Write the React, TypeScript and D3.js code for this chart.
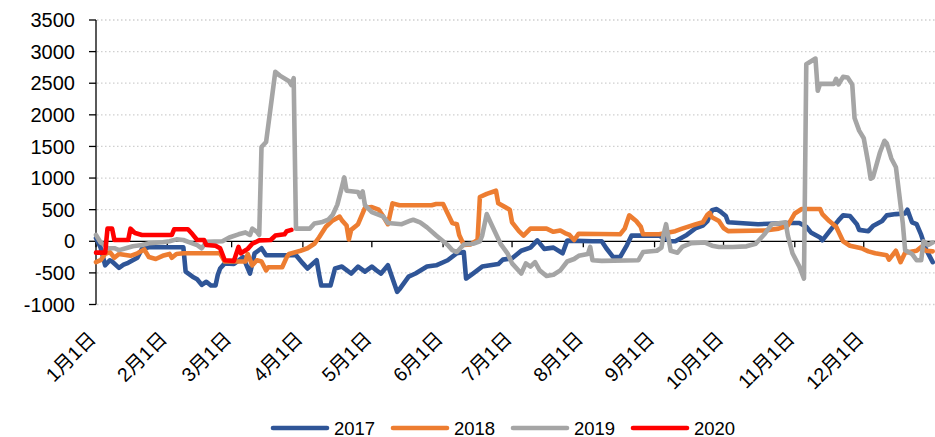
import React from "react";
import * as d3 from "d3";

type Pt = [string, number];

const seriesNames = ["2017", "2018", "2019", "2020"];
const seriesColors = ["#2F5597", "#ED7D31", "#A5A5A5", "#FF0000"];
const yTickValues = [-1000, -500, 0, 500, 1000, 1500, 2000, 2500, 3000, 3500];
const monthLabels = ["1月1日", "2月1日", "3月1日", "4月1日", "5月1日", "6月1日", "7月1日", "8月1日", "9月1日", "10月1日", "11月1日", "12月1日"];

const s2017: Pt[] = [
  ["1/1", 50], ["1/3", -100], ["1/5", -380], ["1/7", -300], ["1/8", -320], ["1/11", -420], ["1/13", -370], ["1/15", -340],
  ["1/17", -300], ["1/19", -260], ["1/21", -120], ["1/24", -95], ["2/8", -95], ["2/9", -480], ["2/12", -560], ["2/14", -600],
  ["2/16", -690], ["2/18", -640], ["2/20", -700], ["2/22", -700], ["2/23", -530], ["2/24", -430], ["2/26", -350], ["3/2", -360],
  ["3/6", -250], ["3/9", -510], ["3/11", -190], ["3/14", -110], ["3/16", -220], ["3/29", -220], ["4/1", -350], ["4/3", -430],
  ["4/7", -300], ["4/8", -510], ["4/9", -700], ["4/13", -700], ["4/15", -430], ["4/18", -400], ["4/22", -510], ["4/25", -400],
  ["4/28", -480], ["5/1", -400], ["5/3", -460], ["5/5", -510], ["5/8", -380], ["5/12", -800], ["5/13", -760], ["5/17", -560],
  ["5/20", -510], ["5/25", -400], ["5/29", -380], ["6/3", -300], ["6/7", -190], ["6/10", -170], ["6/11", -590], ["6/14", -510],
  ["6/18", -400], ["6/25", -360], ["6/27", -290], ["7/1", -270], ["7/5", -150], ["7/9", -100], ["7/12", 15], ["7/15", -120],
  ["7/19", -100], ["7/23", -190], ["7/25", 10], ["8/5", 0], ["8/9", 0], ["8/11", -110], ["8/14", -250], ["8/17", -250],
  ["8/20", -60], ["8/22", 90], ["9/3", 90], ["9/8", 0], ["9/10", 0], ["9/15", 100], ["9/19", 210], ["9/22", 250],
  ["9/24", 320], ["9/26", 490], ["9/28", 510], ["9/30", 460], ["10/2", 400], ["10/3", 300], ["10/16", 270], ["10/24", 280],
  ["10/29", 290], ["11/3", 290], ["11/6", 230], ["11/8", 140], ["11/12", 60], ["11/13", 15], ["11/17", 200], ["11/20", 330],
  ["11/22", 410], ["11/25", 400], ["11/28", 270], ["11/29", 180], ["12/3", 160], ["12/5", 240], ["12/9", 320], ["12/11", 410],
  ["12/15", 430], ["12/19", 440], ["12/20", 500], ["12/22", 300], ["12/24", 270], ["12/26", 100], ["12/28", -120], ["12/31", -330],
];

const s2018: Pt[] = [
  ["1/1", -330], ["1/3", -300], ["1/5", -200], ["1/7", -170], ["1/9", -260], ["1/11", -200], ["1/16", -230], ["1/19", -190],
  ["1/22", -130], ["1/24", -250], ["1/27", -280], ["1/30", -230], ["2/2", -200], ["2/3", -260], ["2/5", -200], ["2/8", -190],
  ["2/24", -190], ["2/26", -320], ["3/7", -320], ["3/8", -200], ["3/10", -380], ["3/12", -300], ["3/14", -320], ["3/16", -460],
  ["3/17", -410], ["3/23", -410], ["3/25", -250], ["3/26", -200], ["3/31", -150], ["4/3", -110], ["4/6", -40], ["4/8", 60],
  ["4/11", 230], ["4/14", 330], ["4/17", 390], ["4/18", 330], ["4/20", 250], ["4/21", 30], ["4/22", 180], ["4/25", 270],
  ["4/28", 530], ["5/1", 540], ["5/4", 500], ["5/6", 390], ["5/8", 270], ["5/10", 600], ["5/13", 570], ["5/27", 570],
  ["5/29", 590], ["6/1", 590], ["6/3", 440], ["6/5", 290], ["6/7", 270], ["6/8", 100], ["6/10", -60], ["6/13", -50],
  ["6/16", 20], ["6/17", 700], ["6/20", 750], ["6/24", 800], ["6/25", 600], ["6/28", 540], ["6/30", 500], ["7/1", 300],
  ["7/4", 160], ["7/6", 90], ["7/9", 200], ["7/16", 200], ["7/19", 150], ["7/22", 170], ["7/24", 130], ["7/26", 100],
  ["7/28", 20], ["7/30", 120], ["8/17", 110], ["8/19", 200], ["8/21", 410], ["8/24", 320], ["8/26", 230], ["8/27", 110],
  ["9/3", 110], ["9/10", 160], ["9/13", 200], ["9/19", 270], ["9/22", 300], ["9/24", 420], ["9/25", 450], ["9/26", 380],
  ["9/29", 320], ["10/1", 210], ["10/3", 160], ["10/19", 170], ["10/25", 200], ["10/29", 250], ["11/1", 440], ["11/4", 510],
  ["11/12", 510], ["11/13", 430], ["11/16", 320], ["11/19", 230], ["11/22", 0], ["11/25", -70], ["11/30", -110], ["12/3", -160],
  ["12/6", -190], ["12/11", -220], ["12/12", -290], ["12/15", -150], ["12/17", -330], ["12/19", -180], ["12/24", -150], ["12/26", -90],
  ["12/28", -150], ["12/31", -160],
];

const s2019: Pt[] = [
  ["1/1", 100], ["1/3", -20], ["1/5", -60], ["1/6", -110], ["1/9", -110], ["1/11", -140], ["1/14", -110], ["1/17", -80],
  ["1/21", -60], ["1/24", -30], ["1/30", -15], ["2/2", 0], ["2/5", 30], ["2/8", 20], ["2/11", -20], ["2/14", -60],
  ["2/16", -110], ["2/18", -10], ["2/25", 0], ["2/28", 60], ["3/4", 110], ["3/7", 140], ["3/9", 100], ["3/10", 200],
  ["3/12", 150], ["3/13", 100], ["3/14", 1490], ["3/16", 1570], ["3/20", 2680], ["3/22", 2620], ["3/26", 2530], ["3/27", 2470],
  ["3/28", 2580], ["3/29", 200], ["4/4", 200], ["4/6", 280], ["4/9", 300], ["4/12", 340], ["4/14", 420], ["4/16", 580],
  ["4/18", 860], ["4/19", 1010], ["4/20", 800], ["4/25", 780], ["4/26", 700], ["4/27", 790], ["4/28", 570], ["5/1", 460],
  ["5/6", 390], ["5/8", 290], ["5/14", 270], ["5/18", 330], ["5/19", 340], ["5/22", 300], ["5/25", 220], ["5/29", 90],
  ["6/3", -60], ["6/5", -140], ["6/7", -170], ["6/10", -50], ["6/14", -40], ["6/17", 0], ["6/18", 90], ["6/20", 430],
  ["6/22", 270], ["6/26", -40], ["6/29", -190], ["7/1", -350], ["7/5", -510], ["7/7", -350], ["7/9", -400], ["7/11", -330],
  ["7/13", -460], ["7/16", -550], ["7/19", -530], ["7/22", -460], ["7/25", -320], ["7/28", -280], ["7/30", -230], ["8/3", -200],
  ["8/4", -90], ["8/5", -300], ["8/9", -310], ["8/25", -300], ["8/27", -170], ["9/2", -150], ["9/4", -100], ["9/5", 120],
  ["9/6", 270], ["9/8", -150], ["9/11", -180], ["9/13", -90], ["9/17", -30], ["9/23", -20], ["9/26", -70], ["9/29", -90],
  ["10/5", -90], ["10/11", -80], ["10/15", -40], ["10/17", 40], ["10/19", 120], ["10/22", 270], ["10/28", 300], ["10/29", 90],
  ["10/31", -190], ["11/3", -400], ["11/5", -590], ["11/6", 2800], ["11/10", 2890], ["11/11", 2380], ["11/12", 2490], ["11/18", 2490],
  ["11/19", 2570], ["11/20", 2480], ["11/22", 2600], ["11/24", 2590], ["11/26", 2480], ["11/27", 1950], ["11/29", 1750], ["12/1", 1630],
  ["12/3", 1230], ["12/4", 990], ["12/5", 1010], ["12/8", 1400], ["12/10", 1590], ["12/11", 1550], ["12/13", 1310], ["12/15", 1170],
  ["12/18", 280], ["12/19", -140], ["12/22", -200], ["12/24", -300], ["12/26", -300], ["12/27", 0], ["12/29", -60], ["12/31", -20],
];

const s2020: Pt[] = [
  ["1/1", -180], ["1/5", -180], ["1/6", 200], ["1/8", 200], ["1/9", 20], ["1/15", 20], ["1/16", 200], ["1/18", 130],
  ["1/21", 100], ["2/3", 100], ["2/4", 190], ["2/10", 190], ["2/12", 110], ["2/14", 20], ["2/17", 20], ["2/18", -60],
  ["2/22", -70], ["2/24", -110], ["2/26", -300], ["3/2", -310], ["3/4", -90], ["3/5", -190], ["3/8", -120], ["3/10", -40],
  ["3/13", 15], ["3/18", 20], ["3/20", 90], ["3/24", 110], ["3/25", 160], ["3/27", 180],
];

const allSeries = [s2017, s2018, s2019, s2020];

const W = 935;
const H = 437;
const parse = d3.timeParse("%Y/%m/%d");
const toDate = (md: string) => parse("2001/" + md) as Date;

export default function App() {
  const x = d3.scaleTime().domain([new Date(2001, 0, 1), new Date(2002, 0, 1)]).range([96, 935]);
  const y = d3.scaleLinear().domain([-1000, 3500]).range([304.5, 20]);
  const line = d3
    .line<Pt>()
    .x((d) => x(toDate(d[0])))
    .y((d) => y(d[1]));
  const monthDates = d3.range(12).map((m) => new Date(2001, m, 1));
  const font = "'Liberation Sans', Arial, 'Noto Sans CJK SC', sans-serif";

  return (
    <svg width={W} height={H} style={{ position: "absolute", left: 0, top: 0, background: "#fff" }} fontFamily={font}>
      <rect width={W} height={H} fill="#fff" />
      {yTickValues.filter((v) => v !== 0).map((v) => (
        <line key={"g" + v} x1={97} x2={935} y1={y(v)} y2={y(v)} stroke="#D0D0D0" strokeWidth={1.3} strokeDasharray="1.5,2.5" />
      ))}
      {/* y axis */}
      <line x1={96} x2={96} y1={y(3500)} y2={y(-1000)} stroke="#000" strokeWidth={1.3} />
      {yTickValues.map((v) => (
        <g key={"t" + v}>
          <line x1={89} x2={96} y1={y(v)} y2={y(v)} stroke="#000" strokeWidth={1.3} />
          <text x={75} y={y(v)} dy="0.36em" textAnchor="end" fontSize={20} fill="#000">
            {v < 0 ? "-" + Math.abs(v) : String(v)}
          </text>
        </g>
      ))}
      {/* x axis at 0 */}
      <line x1={96} x2={935} y1={y(0)} y2={y(0)} stroke="#000" strokeWidth={1.3} />
      {monthDates.map((d, i) => (
        <g key={"m" + i}>
          <line x1={x(d)} x2={x(d)} y1={y(0)} y2={y(0) + 6} stroke="#000" strokeWidth={1.3} />
          <text
            transform={`translate(${x(d) + 1},${340}) rotate(-45)`}
            textAnchor="end"
            fontSize={19.5}
            fill="#000"
          >
            {monthLabels[i]}
          </text>
        </g>
      ))}
      {/* series */}
      {allSeries.map((s, i) => (
        <path
          key={"s" + i}
          d={line(s) || ""}
          fill="none"
          stroke={seriesColors[i]}
          strokeWidth={4.6}
          strokeLinejoin="round"
          strokeLinecap="round"
        />
      ))}
      {/* legend */}
      {seriesNames.map((n, i) => {
        const lx = 273 + i * 120;
        return (
          <g key={"l" + n}>
            <line x1={lx} x2={lx + 54} y1={428} y2={428} stroke={seriesColors[i]} strokeWidth={4.6} strokeLinecap="round" />
            <text x={lx + 61} y={434.5} fontSize={18.5} fill="#000">
              {n}
            </text>
          </g>
        );
      })}
    </svg>
  );
}
